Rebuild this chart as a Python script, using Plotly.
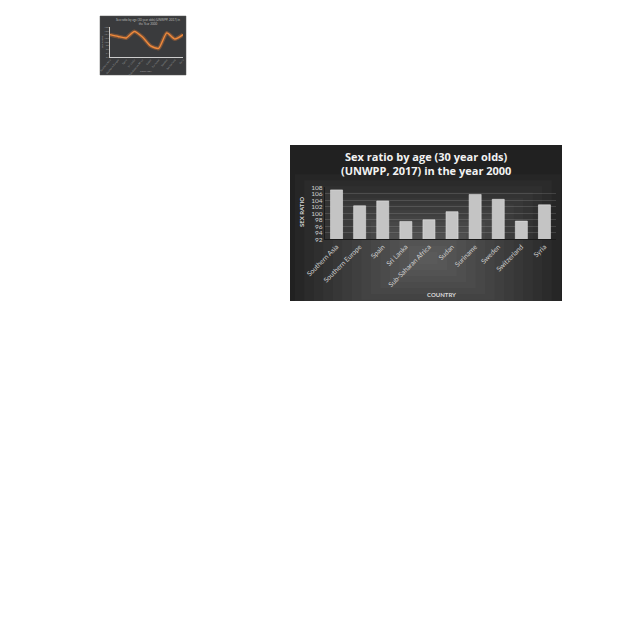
import plotly.graph_objects as go

W, H = 640, 640
OFF = 8  # page body margin

countries = ["Southern Asia", "Southern Europe", "Spain", "Sri Lanka", "Sub-Saharan Africa",
             "Sudan", "Suriname", "Sweden", "Switzerland", "Syria"]
sex_ratio = [107.2, 102.3, 103.8, 97.5, 98.0, 100.5, 105.8, 104.3, 97.6, 102.6]

thumb_values = [103.9, 102.9, 102.1, 105.6, 102.6, 97.8, 96.5, 104.8, 101.5, 103.9]
y_ticks = [92, 94, 96, 98, 100, 102, 104, 106, 108]

def px_x(x):
    return (x - OFF) / W

def px_y(y):
    return 1 - (y - OFF) / H

fig = go.Figure()

# thumbnail line chart
fig.add_trace(go.Scatter(x=countries, y=thumb_values, mode="lines",
                         line=dict(color="rgba(237,125,49,0.35)", width=4, shape="spline", smoothing=0.6),
                         xaxis="x2", yaxis="y2", hoverinfo="skip", showlegend=False))
fig.add_trace(go.Scatter(x=countries, y=thumb_values, mode="lines",
                         line=dict(color="#f08a3c", width=1.4, shape="spline", smoothing=0.6),
                         xaxis="x2", yaxis="y2", showlegend=False))

# main bar chart
fig.add_trace(go.Bar(x=countries, y=sex_ratio,
                     marker=dict(color="#c4c4c4", line=dict(color="#e2e2e2", width=0.6)),
                     showlegend=False))

shapes = []
# main chart dark background with soft gradient
x0, y0, x1, y1 = 290, 145, 562, 301
shapes.append(dict(type="rect", xref="paper", yref="paper", layer="below",
                   x0=px_x(x0), x1=px_x(x1), y0=px_y(y1), y1=px_y(y0),
                   fillcolor="#212121", line=dict(width=0)))
cx, cy = 428, 258
n = 14
for i in range(1, n + 1):
    f = 1 - i / (n + 1)
    hx = (x1 - x0) / 2 * f * 1.05
    hy = (y1 - y0) / 2 * f * 1.15
    shapes.append(dict(type="rect", xref="paper", yref="paper", layer="below",
                       x0=px_x(max(x0, cx - hx)), x1=px_x(min(x1, cx + hx)),
                       y0=px_y(min(y1, cy + hy)), y1=px_y(max(y0, cy - hy)),
                       fillcolor="rgba(255,255,255,0.022)", line=dict(width=0)))
# thumbnail background
shapes.append(dict(type="rect", xref="paper", yref="paper", layer="below",
                   x0=px_x(100), x1=px_x(186), y0=px_y(75), y1=px_y(16),
                   fillcolor="#3a3b3d", line=dict(color="#555", width=0.5)))

annotations = [
    dict(text="<b>Sex ratio by age (30 year olds)<br>(UNWPP, 2017) in the year 2000</b>",
         x=px_x(426), y=px_y(163.5), xref="paper", yref="paper", showarrow=False,
         xanchor="center", yanchor="middle",
         font=dict(family="Open Sans", size=11, color="#f2f2f2")),
    dict(text="<b>SEX RATIO</b>", x=px_x(301), y=px_y(212), xref="paper", yref="paper",
         showarrow=False, textangle=-90, xanchor="center", yanchor="middle",
         font=dict(family="Lato", size=6, color="#d9d9d9")),
    dict(text="<b>COUNTRY</b>", x=px_x(441), y=px_y(294.5), xref="paper", yref="paper",
         showarrow=False, xanchor="center", yanchor="middle",
         font=dict(family="Lato", size=6, color="#d9d9d9")),
    dict(text="Sex ratio by age (30 year olds) (UNWPP, 2017) in<br>the Year 2000",
         x=px_x(148), y=px_y(22), xref="paper", yref="paper", showarrow=False,
         xanchor="center", yanchor="middle",
         font=dict(family="Lato", size=3, color="#bbbbbb")),
    dict(text="COUNTRY", x=px_x(146), y=px_y(72), xref="paper", yref="paper", showarrow=False,
         xanchor="center", yanchor="middle", font=dict(family="Lato", size=2.5, color="#aaaaaa")),
    dict(text="SEX RATIO", x=px_x(103), y=px_y(42), xref="paper", yref="paper", showarrow=False,
         textangle=-90, xanchor="center", yanchor="middle",
         font=dict(family="Lato", size=2.5, color="#aaaaaa")),
]

fig.update_layout(
    width=W, height=H, autosize=False,
    paper_bgcolor="white", plot_bgcolor="rgba(0,0,0,0)",
    margin=dict(l=0, r=0, t=0, b=0, pad=0),
    bargap=0.48,
    shapes=shapes, annotations=annotations,
    xaxis=dict(domain=[px_x(325), px_x(556)], tickangle=-45, automargin=False,
               tickfont=dict(family="Lato", size=6.8, color="#d0d0d0"),
               showline=True, linecolor="#1a1a1a", linewidth=1,
               showgrid=False, ticks="", anchor="y"),
    yaxis=dict(domain=[px_y(239.3), px_y(187.3)], range=[92, 108], automargin=False,
               tickvals=y_ticks, ticktext=[str(v) for v in y_ticks],
               tickfont=dict(family="Lato", size=6.5, color="#d0d0d0"),
               showgrid=True, gridcolor="rgba(255,255,255,0.13)", gridwidth=0.6,
               showline=True, linecolor="#1a1a1a", linewidth=1.2,
               zeroline=False, ticks="", anchor="x"),
    xaxis2=dict(domain=[px_x(110), px_x(183)], anchor="y2", tickangle=-50, automargin=False,
                tickfont=dict(family="Lato", size=2.5, color="#999"),
                showline=True, linecolor="#cccccc", linewidth=0.8, showgrid=False, ticks=""),
    yaxis2=dict(domain=[px_y(56.7), px_y(27)], anchor="x2", range=[92, 108], automargin=False,
                tickvals=y_ticks, tickfont=dict(family="Lato", size=2.5, color="#999"),
                showline=True, linecolor="#cccccc", linewidth=0.8,
                showgrid=False, zeroline=False, ticks=""),
)

fig.write_html("out.html")
